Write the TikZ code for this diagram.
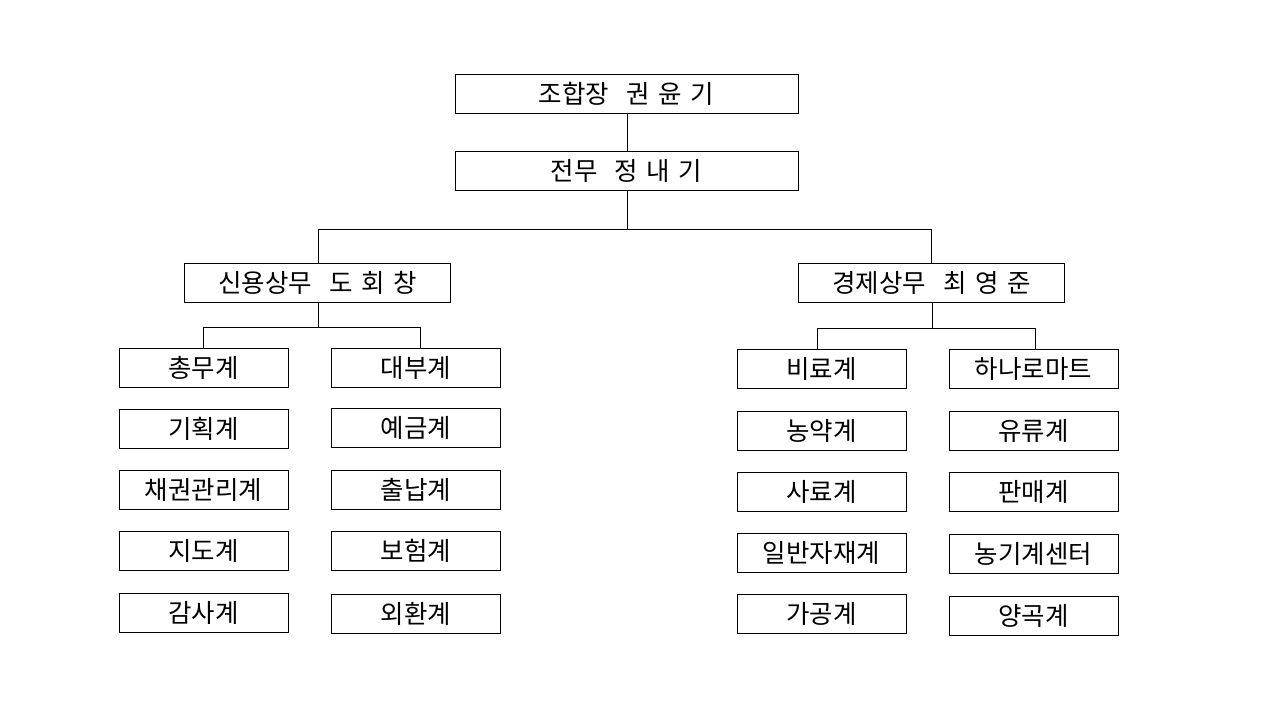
\documentclass[tikz,border=0pt]{standalone}
\usepackage{fontspec}
\newfontfamily\kr[WordSpace={1.5}]{Noto Sans CJK KR}
\begin{document}
\begin{tikzpicture}[x=1pt,y=-1pt,
  box/.style={draw,line width=1pt,minimum height=39pt,inner sep=0pt,
    font=\kr\fontsize{25.5}{29}\selectfont},
  topbox/.style={box,minimum width=343pt},
  midbox/.style={box,minimum width=266pt},
  leaf/.style={box,minimum width=169pt},
  link/.style={line width=0.8pt}]
\useasboundingbox[fill=white] (0,0) rectangle (1280,720);
% top
\node[topbox] (top) at (626.5,93.5) {조합장~ 권 윤 기};
\node[topbox] (jm) at (626.5,171) {전무~ 정 내 기};
\node[midbox] (lm) at (317.5,283) {신용상무~ 도 회 창};
\node[midbox] (rm) at (931.5,283) {경제상무~ 최 영 준};
% left column 1
\node[leaf] (l1) at (203.5,367.5) {총무계};
\node[leaf] (l2) at (203.5,428.5) {기획계};
\node[leaf] (l3) at (203.5,489.5) {채권관리계};
\node[leaf] (l4) at (203.5,550.5) {지도계};
\node[leaf] (l5) at (203.5,612.5) {감사계};
% left column 2
\node[leaf] (l6) at (416,367.5) {대부계};
\node[leaf] (l7) at (416,428) {예금계};
\node[leaf] (l8) at (416,489.5) {출납계};
\node[leaf] (l9) at (416,551) {보험계};
\node[leaf] (l10) at (416,613.5) {외환계};
% right column 1
\node[leaf] (r1) at (821.5,369) {비료계};
\node[leaf] (r2) at (821.5,430.5) {농약계};
\node[leaf] (r3) at (821.5,491.5) {사료계};
\node[leaf] (r4) at (821.5,553) {일반자재계};
\node[leaf] (r5) at (821.5,614) {가공계};
% right column 2
\node[leaf] (r6) at (1033.5,369) {하나로마트};
\node[leaf] (r7) at (1033.5,430.5) {유류계};
\node[leaf] (r8) at (1033.5,491.5) {판매계};
\node[leaf] (r9) at (1033.5,553.5) {농기계센터};
\node[leaf] (r10) at (1033.5,615.5) {양곡계};
% connectors
\coordinate (jb) at (627.5,229);
\coordinate (lb) at (318,327);
\coordinate (rb) at (932,328);
\draw[link] ([xshift=1pt]top.south) -- ([xshift=1pt]jm.north);
\draw[link] ([xshift=1pt]jm.south) -- (jb);
\draw[link] (jb) -| ([xshift=0.5pt]lm.north);
\draw[link] (jb) -| ([xshift=-0.5pt]rm.north);
\draw[link] ([xshift=0.5pt]lm.south) -- (lb);
\draw[link] (lb) -| (l1.north);
\draw[link] (lb) -| ([xshift=4pt]l6.north);
\draw[link] ([xshift=0.5pt]rm.south) -- (rb);
\draw[link] (rb) -| ([xshift=-4.5pt]r1.north);
\draw[link] (rb) -| ([xshift=1.5pt]r6.north);
\end{tikzpicture}
\end{document}
